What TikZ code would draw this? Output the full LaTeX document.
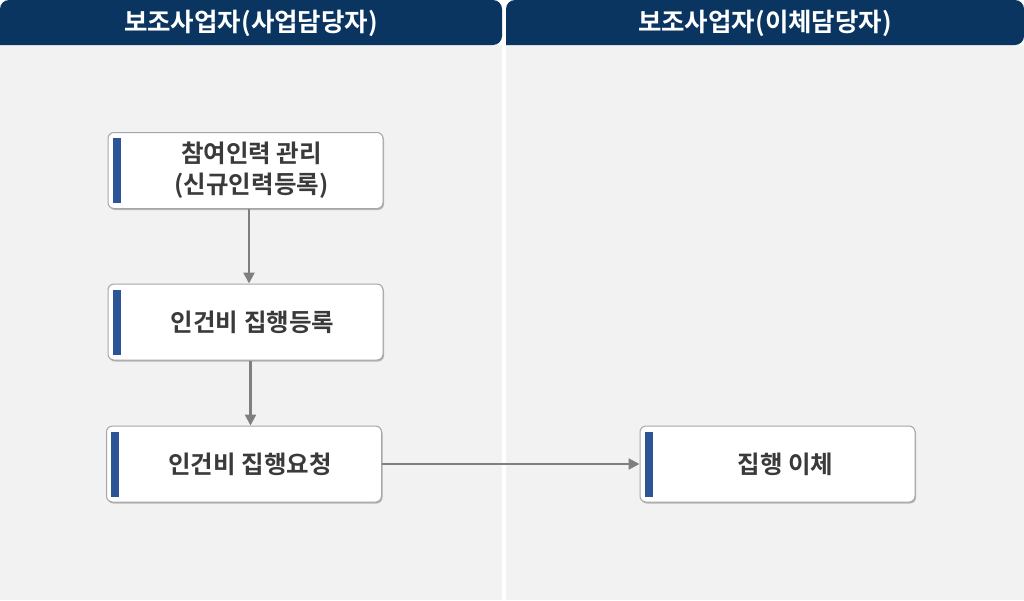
\documentclass[tikz,border=0pt]{standalone}
\usepackage{fontspec}
\setmainfont{Noto Sans CJK KR}[BoldFont={* Bold}]
\usetikzlibrary{arrows.meta,shadows}
\definecolor{hdr}{HTML}{0A3560}
\definecolor{lanebg}{HTML}{F2F2F2}
\definecolor{bar}{HTML}{2B5597}
\definecolor{txt}{HTML}{3A3A3A}
\definecolor{bord}{HTML}{A6A6A6}
\definecolor{arr}{HTML}{7F7F7F}
\tikzset{
  px/.style={x=1pt,y=-1pt},
  procbox/.style={draw=bord, line width=1pt, fill=white, rounded corners=6pt,
    minimum width=275pt, minimum height=76pt, inner sep=0pt,
    drop shadow={shadow xshift=1pt, shadow yshift=-1.5pt, opacity=0.25, fill=black}},
  boxtext/.style={font=\bfseries\fontsize{24.5pt}{31pt}\selectfont, text=txt, align=center},
  hdrtext/.style={font=\bfseries\fontsize{25.5pt}{28pt}\selectfont, text=white},
  flow/.style={draw=arr, line width=2.2pt, -{Triangle[length=11pt,width=11pt]}}
}
\begin{document}
\begin{tikzpicture}[px]
\useasboundingbox (0,0) rectangle (1024,600);
\fill[white] (0,0) rectangle (1024,600);
% lanes
\fill[lanebg] (0,45) rectangle (502,600);
\fill[lanebg] (506,45) rectangle (1024,600);
\fill[hdr, rounded corners=9pt] (0,45) -- (0,0) -- (502,0) -- (502,45) [sharp corners] -- cycle;
\fill[hdr, rounded corners=9pt] (506,45) -- (506,0) -- (1024,0) -- (1024,45) [sharp corners] -- cycle;
\node[hdrtext] (h1) at (251,23) {보조사업자(사업담당자)};
\node[hdrtext] (h2) at (765,23) {보조사업자(이체담당자)};
% boxes
\node[procbox] (b1) at (245.5,170.5) {};
\node[procbox] (b2) at (245.5,322) {};
\node[procbox] (b3) at (244,464) {};
\node[procbox] (b4) at (777.5,464) {};
\foreach \b in {b1,b2,b3,b4}{
  \fill[bar] ([xshift=5pt,yshift=-6pt]\b.north west) rectangle ([xshift=13pt,yshift=6pt]\b.south west);
}
\node[boxtext] (t1) at ([xshift=6pt]b1.center) {참여인력 관리\\(신규인력등록)};
\node[boxtext] (t2) at ([xshift=7pt]b2.center) {인건비 집행등록};
\node[boxtext] (t3) at ([xshift=6pt]b3.center) {인건비 집행요청};
\node[boxtext] (t4) at ([xshift=8pt]b4.center) {집행 이체};
% connectors
\draw[flow] ([xshift=3.5pt]b1.south) -- ([xshift=3.5pt]b2.north);
\draw[flow] ([xshift=5pt]b2.south) -- ([xshift=6.5pt]b3.north);
\draw[flow] (b3.east) -- (b4.west);
\end{tikzpicture}
\end{document}
